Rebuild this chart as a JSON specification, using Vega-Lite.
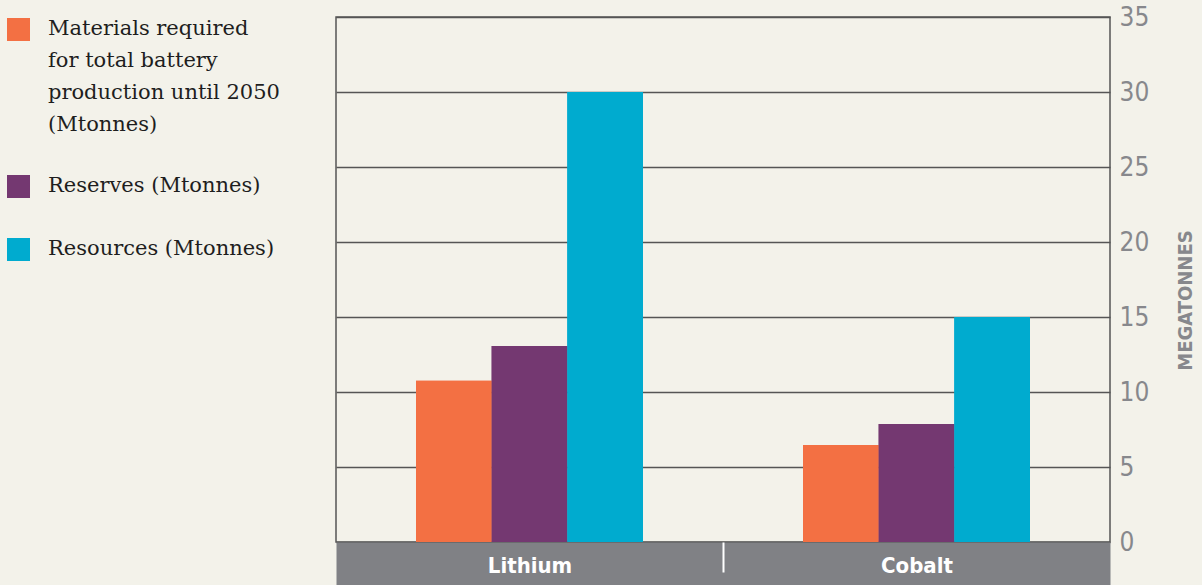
{
  "$schema": "https://vega.github.io/schema/vega-lite/v6.json",
  "width": 774,
  "height": 525,
  "autosize": {"type": "none"},
  "padding": {"left": 336, "top": 17, "right": 92, "bottom": 43},
  "background": "#f3f2ea",
  "config": {"view": {"stroke": "#555555", "strokeWidth": 1.5}},
  "data": {
    "values": [
      {"metal": "Lithium", "measure": "Materials required\nfor total battery\nproduction until 2050\n(Mtonnes)", "value": 10.75},
      {"metal": "Lithium", "measure": "Reserves (Mtonnes)", "value": 13.07},
      {"metal": "Lithium", "measure": "Resources (Mtonnes)", "value": 30},
      {"metal": "Cobalt", "measure": "Materials required\nfor total battery\nproduction until 2050\n(Mtonnes)", "value": 6.47},
      {"metal": "Cobalt", "measure": "Reserves (Mtonnes)", "value": 7.87},
      {"metal": "Cobalt", "measure": "Resources (Mtonnes)", "value": 15}
    ]
  },
  "resolve": {"axis": {"x": "independent"}},
  "layer": [
    {
      "mark": {"type": "bar"},
      "encoding": {
        "x": {
          "field": "metal", "type": "nominal", "sort": ["Lithium", "Cobalt"],
          "scale": {"paddingInner": 0.0225, "paddingOuter": 0.01125},
          "axis": {"orient": "bottom", "title": null, "labels": false, "ticks": false, "grid": false,
                   "domain": true, "domainColor": "#808185", "domainWidth": 43, "offset": 21.5, "zindex": 0}
        },
        "xOffset": {
          "field": "measure", "type": "nominal",
          "sort": ["Materials required\nfor total battery\nproduction until 2050\n(Mtonnes)", "Reserves (Mtonnes)", "Resources (Mtonnes)"],
          "scale": {"paddingInner": 0, "paddingOuter": 1}
        },
        "y": {
          "field": "value", "type": "quantitative",
          "scale": {"domain": [0, 35], "nice": false},
          "axis": {
            "orient": "right", "values": [0, 5, 10, 15, 20, 25, 30, 35],
            "grid": true, "gridColor": "#555555", "gridWidth": 1.5,
            "domain": false, "ticks": false,
            "labelFont": "DejaVu Sans Condensed, Roboto, sans-serif", "labelFontSize": 26, "labelColor": "#87888c", "labelPadding": 9,
            "title": "MEGATONNES", "titleFont": "DejaVu Sans Condensed, Roboto, sans-serif", "titleFontSize": 20, "titleFontWeight": "bold",
            "titleColor": "#87888c", "titleAngle": 270, "titleAlign": "center", "titleBaseline": "middle",
            "titleX": 75, "titleY": 283
          }
        },
        "color": {
          "field": "measure", "type": "nominal",
          "scale": {
            "domain": ["Materials required\nfor total battery\nproduction until 2050\n(Mtonnes)", "Reserves (Mtonnes)", "Resources (Mtonnes)"],
            "range": ["#f37043", "#743871", "#00abcf"]
          },
          "legend": {
            "orient": "none", "legendX": -329, "legendY": 1, "title": null,
            "symbolType": "square", "symbolSize": 529, "symbolStrokeWidth": 0, "symbolOpacity": 1,
            "labelFont": "DejaVu Serif", "labelFontSize": 21, "labelColor": "#1e1e1e", "labelLimit": 0,
            "labelOffset": 18, "rowPadding": 39, "labelBaseline": "top",
            "labelExpr": "split(datum.label, '\\n')",
            "encode": {
              "labels": {"update": {"lineHeight": {"value": 32}, "dy": {"value": -12}}},
              "symbols": {"update": {"fill": {"signal": "datum.index === 0 ? '#f88b51' : scale('color', datum.value)"}}}
            }
          }
        }
      }
    },
    {
      "mark": {"type": "bar"},
      "encoding": {
        "x": {
          "field": "metal", "type": "nominal", "sort": ["Lithium", "Cobalt"],
          "scale": {"paddingInner": 0.0225, "paddingOuter": 0.01125},
          "axis": {"orient": "bottom", "title": null, "domain": false, "grid": false,
                   "ticks": true, "tickColor": "#ffffff", "tickWidth": 2, "tickSize": 30, "tickOffset": -193.5,
                   "tickOpacity": {"condition": {"test": "datum.value === 'Lithium'", "value": 0}, "value": 1},
                   "labels": true, "labelOffset": 193.5, "labelColor": "#ffffff", "labelFont": "DejaVu Sans Condensed, Roboto, sans-serif", "labelFontWeight": "bold",
                   "labelFontSize": 22, "labelPadding": 0, "labelBaseline": "alphabetic", "labelAngle": 0, "zindex": 2}
        },
        "xOffset": {
          "field": "measure", "type": "nominal",
          "sort": ["Materials required\nfor total battery\nproduction until 2050\n(Mtonnes)", "Reserves (Mtonnes)", "Resources (Mtonnes)"],
          "scale": {"paddingInner": 0, "paddingOuter": 1}
        },
        "y": {"field": "value", "type": "quantitative"},
        "color": {"field": "measure", "type": "nominal"}
      }
    }
  ]
}
